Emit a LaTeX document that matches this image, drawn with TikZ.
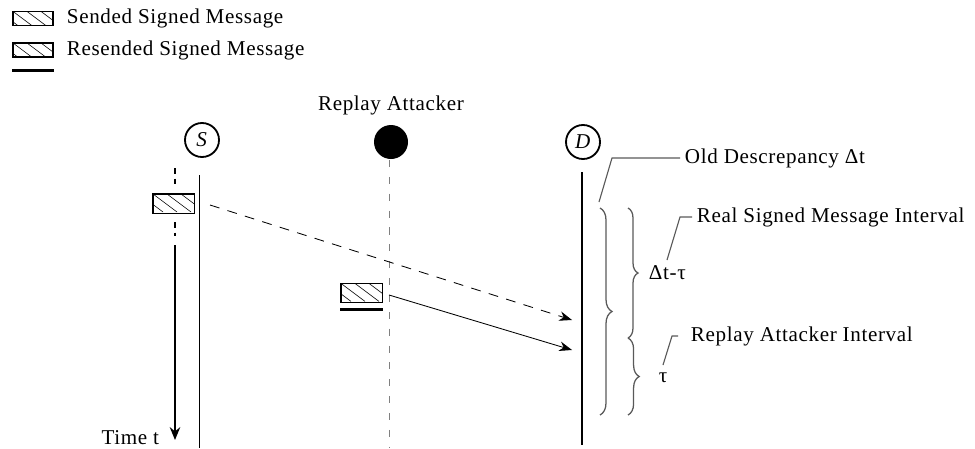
\documentclass[tikz,border=0pt]{standalone}
\usepackage{fontspec}
\setmainfont{Liberation Serif}[LetterSpace=3]
\usetikzlibrary{arrows.meta,decorations.pathreplacing}

\begin{document}
\begin{tikzpicture}[
    every node/.style={font=\fontsize{15}{17}\selectfont},
    msg/.style={draw, thick, inner sep=0pt, minimum width=1.03cm, minimum height=0.48cm,
        path picture={
            \foreach \k in {-.35,0,.35,.7}
                \draw[thin] ([xshift=\k cm]path picture bounding box.north west) -- ++(.6,-.45);
        }},
    party/.style={circle, draw, line width=1.3pt, minimum size=0.85cm, inner sep=0pt},
    leader/.style={gray!70!black, line width=0.8pt},
    interval/.style={gray!70!black, line width=0.9pt, decorate, decoration={brace, amplitude=#1}},
    tip/.style={-{Stealth[length=0.32cm,width=0.24cm]}},
]
\useasboundingbox (0,0) rectangle (24.375,-11.2);

% legend
\node[msg, minimum width=1cm, minimum height=0.35cm] (key1) at (0.825,-0.46) {};
\node[anchor=west] (key1txt) at (1.55,-0.46) {Sended Signed Message};
\node[msg, minimum width=1cm, minimum height=0.35cm] (key2) at (0.825,-1.25) {};
\node[anchor=west] (key2txt) at (1.55,-1.25) {Resended Signed Message};
\draw[line width=2pt] ([yshift=-0.32cm]key2.south west) -- ([yshift=-0.32cm]key2.south east);

% parties
\node[party] (S) at (5.05,-3.5) {\textit{S}};
\node[circle, fill, minimum size=0.85cm, inner sep=0pt] (R) at (9.775,-3.55) {};
\node (Rlabel) at (9.775,-2.625) {Replay Attacker};
\node[party] (D) at (14.575,-3.55) {\textit{D}};

\draw[semithick] (4.975,-4.375) -- (4.975,-11.2);
\draw[gray, thin, dash pattern=on 5pt off 7pt] (9.725,-4.0) -- (9.725,-11.2);
\draw[line width=1.4pt] (14.55,-4.3) -- (14.55,-11.125);

% time axis
\node[msg] (sent) at (4.34,-5.09) {};
\begin{scope}[line width=1.8pt]
    \draw[dash pattern=on 4pt off 3.5pt] (4.375,-4.2) -- (4.375,-4.65);
    \draw[dash pattern=on 4pt off 3.5pt] (4.375,-5.55) -- (4.375,-5.9);
    \draw[-{Stealth[length=0.32cm,width=0.26cm]}] (4.375,-6.125) -- (4.375,-11.0);
\end{scope}
\node[anchor=east] (time) at (4.1,-10.93) {Time t};

% messages
\node[msg] (resent) at (9.04,-7.325) {};
\draw[line width=2pt] ([yshift=-0.15cm]resent.south west) -- ([yshift=-0.15cm]resent.south east);

\coordinate (tx1) at (5.25,-5.125);
\coordinate (rx1) at (14.3,-8.0);
\coordinate (tx2) at (9.725,-7.375);
\coordinate (rx2) at (14.3,-8.75);
\draw[semithick, tip, dash pattern=on 7pt off 6pt] (tx1) -- (rx1);
\draw[semithick, tip] (tx2) -- (rx2);

% intervals
\draw[interval=0.3cm] (15.0,-5.2) -- (15.0,-10.375);
\draw[interval=0.25cm] (15.7,-5.2) -- (15.7,-8.45);
\draw[interval=0.28cm] (15.7,-8.45) -- (15.7,-10.375);

\node[anchor=west] (old) at (17.0,-3.95) {Old Descrepancy Δt};
\draw[leader] (14.975,-5.05) -- (15.3,-3.95) -- (old.west);
\node[anchor=west] (real) at (17.3,-5.425) {Real Signed Message Interval};
\draw[leader] (16.675,-6.5) -- (17.0,-5.425) -- (real.west);
\node[anchor=west] (rai) at (17.15,-8.4) {Replay Attacker Interval};
\draw[leader] (16.575,-9.125) -- (16.8,-8.4) -- ([xshift=-0.2cm]rai.west);

\node[anchor=west] (dtt) at (16.1,-6.825) {Δt-τ};
\node (tau) at (16.575,-9.45) {τ};
\end{tikzpicture}
\end{document}
